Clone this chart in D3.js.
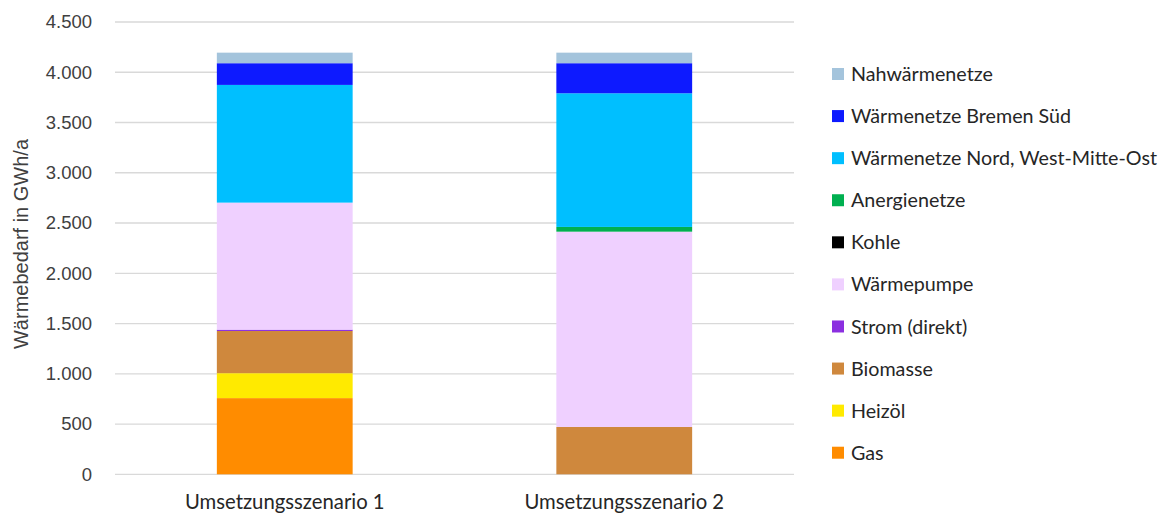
<!DOCTYPE html>
<html><head><meta charset="utf-8">
<script src="https://cdn.jsdelivr.net/npm/d3@7"></script>
<style>body{margin:0;background:#fff;} svg{display:block;}</style>
</head><body>
<svg id="c" width="1166" height="515"></svg>
<script>
const categories = ["Umsetzungsszenario 1", "Umsetzungsszenario 2"];
const seriesNames = ["Gas","Heizöl","Biomasse","Strom (direkt)","Wärmepumpe","Kohle","Anergienetze","Wärmenetze Nord, West-Mitte-Ost","Wärmenetze Bremen Süd","Nahwärmenetze"];
const seriesColors = ["#FF8C00","#FFEA00","#CF883D","#8B2FE0","#EFD0FF","#000000","#00B050","#00BFFF","#0D1AFF","#A4C4DC"];
const gas        = [758, 0];
const heizoel    = [248, 0];
const biomasse   = [420, 471];
const strom      = [13, 0];
const waermepumpe= [1264, 1943];
const kohle      = [0, 0];
const anergie    = [0, 47];
const nord       = [1171, 1330];
const bremenSued = [216, 299];
const nahwaerme  = [105, 105];
const yTicks = [0,500,1000,1500,2000,2500,3000,3500,4000,4500];
const yTickLabels = ["0","500","1.000","1.500","2.000","2.500","3.000","3.500","4.000","4.500"];
const yLabel = "Wärmebedarf in GWh/a";

const seriesValues = [gas,heizoel,biomasse,strom,waermepumpe,kohle,anergie,nord,bremenSued,nahwaerme];
const table = categories.map((c,i)=>{const o={cat:c}; seriesNames.forEach((s,j)=>o[s]=seriesValues[j][i]); return o;});

const svg = d3.select("#c");
const x = d3.scaleBand().domain(categories).range([115,794]).paddingInner(0.6).paddingOuter(0.3);
const y = d3.scaleLinear().domain([0,4500]).range([474.3,22]);

// gridlines
svg.append("g").selectAll("line").data(yTicks).join("line")
  .attr("x1",115).attr("x2",794)
  .attr("y1",d=>y(d)).attr("y2",d=>y(d))
  .attr("stroke","#D9D9D9").attr("stroke-width",1.3);

// y axis labels
const yAxis = d3.axisLeft(y).tickValues(yTicks).tickFormat((d,i)=>yTickLabels[i]).tickSize(0).tickPadding(0);
const ga = svg.append("g").attr("transform","translate(92,0)").call(yAxis);
ga.select(".domain").remove();
ga.selectAll("text").attr("font-family","'Liberation Sans', Arial, sans-serif").attr("font-size",18.5).attr("fill","#404040");

svg.append("text").attr("transform","translate(28,244) rotate(-90)")
  .attr("text-anchor","middle").attr("font-family","'Liberation Sans', Arial, sans-serif")
  .attr("font-size",20).attr("fill","#404040").text(yLabel);

// bars
const stack = d3.stack().keys(seriesNames)(table);
svg.append("g").selectAll("g").data(stack).join("g")
  .attr("fill",(d,i)=>seriesColors[i])
  .selectAll("rect").data(d=>d).join("rect")
  .attr("x",d=>x(d.data.cat)).attr("width",x.bandwidth())
  .attr("y",d=>y(d[1])).attr("height",d=>Math.max(0,y(d[0])-y(d[1])));

// category labels
const xAxis = d3.axisBottom(x).tickSize(0).tickPadding(0);
const gx = svg.append("g").attr("transform","translate(0,495)").call(xAxis);
gx.select(".domain").remove();
gx.selectAll("text").attr("font-family","Lato, 'Open Sans', sans-serif").attr("font-size",20.3).attr("fill","#262626");

// legend
const legendItems = seriesNames.slice().reverse();
const legendColors = seriesColors.slice().reverse();
const lg = svg.append("g").selectAll("g").data(legendItems).join("g")
  .attr("transform",(d,i)=>`translate(832,${74+i*42.08})`);
lg.append("rect").attr("x",0).attr("y",-6).attr("width",12).attr("height",12).attr("fill",(d,i)=>legendColors[i]);
lg.append("text").attr("x",19).attr("dy","0.36em").attr("font-family","Lato, 'Open Sans', sans-serif")
  .attr("font-size",19.7).attr("fill","#262626").text(d=>d);
</script>
</body></html>
